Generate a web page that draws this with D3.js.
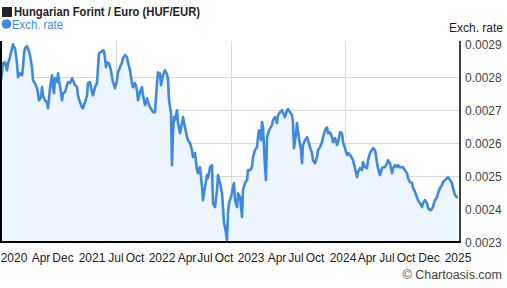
<!DOCTYPE html>
<html><head><meta charset="utf-8">
<script src="https://cdn.jsdelivr.net/npm/d3@7"></script>
<style>
html,body{margin:0;padding:0;background:#fff;}
svg{display:block;font-family:"Liberation Sans",Arial,sans-serif;}
</style></head>
<body>
<svg id="c" width="507" height="288"></svg>
<script>
// Days since start of the 5-year window
const days = [0,8,16,24,28,36,44,48,52,56,60,64,68,76,84,88,92,96,104,108,116,124,128,136,144,148,152,160,164,168,176,184,188,196,204,208,212,216,224,228,232,240,244,248,256,264,268,276,284,288,296,304,308,316,324,328,336,344,348,356,364,368,376,384,388,392,400,408,412,416,420,424,432,440,444,448,456,464,468,476,484,488,496,504,508,516,524,528,536,544,548,556,564,568,576,584,588,596,604,608,616,624,628,632,636,640,648,656,664,668,672,680,684,688,692,696,704,708,716,724,728,736,744,748,756,764,768,776,784,788,796,804,808,816,824,828,836,844,848,856,864,868,876,884,888,892,896,904,908,912,920,928,932,936,944,948,956,964,968,976,984,988,996,1004,1008,1016,1024,1028,1032,1040,1044,1048,1056,1060,1064,1072,1084,1088,1096,1104,1108,1116,1124,1128,1136,1144,1148,1156,1164,1168,1172,1180,1184,1192,1200,1204,1208,1216,1224,1228,1236,1244,1248,1256,1264,1268,1276,1284,1288,1296,1304,1308,1316,1324,1328,1336,1344,1348,1356,1364,1368,1376,1384,1388,1396,1404,1408,1416,1424,1428,1436,1444,1448,1456,1464,1468,1476,1484,1488,1496,1504,1508,1516,1524,1528,1536,1544,1548,1556,1564,1568,1576,1584,1588,1596,1604,1608,1616,1624,1628,1636,1644,1648,1656,1664,1668,1676,1684,1688,1696,1704,1708,1716,1720,1728,1732,1736,1744,1748,1756,1764,1768,1776,1784,1788,1796,1804,1808,1816,1824,1828];
// HUF/EUR exchange rate
const rates = [0.002791,0.002842,0.002845,0.002821,0.002842,0.002861,0.002888,0.002900,0.002891,0.002888,0.002867,0.002842,0.002800,0.002812,0.002806,0.002830,0.002873,0.002888,0.002894,0.002888,0.002867,0.002830,0.002791,0.002782,0.002767,0.002752,0.002730,0.002739,0.002770,0.002745,0.002730,0.002724,0.002706,0.002767,0.002806,0.002770,0.002752,0.002797,0.002785,0.002812,0.002791,0.002755,0.002730,0.002752,0.002755,0.002776,0.002785,0.002782,0.002797,0.002791,0.002776,0.002770,0.002745,0.002724,0.002709,0.002706,0.002724,0.002745,0.002782,0.002785,0.002755,0.002745,0.002770,0.002782,0.002830,0.002873,0.002876,0.002882,0.002879,0.002858,0.002830,0.002845,0.002842,0.002821,0.002800,0.002785,0.002767,0.002791,0.002815,0.002830,0.002845,0.002858,0.002867,0.002861,0.002845,0.002821,0.002782,0.002770,0.002782,0.002761,0.002730,0.002755,0.002770,0.002745,0.002715,0.002736,0.002724,0.002709,0.002700,0.002694,0.002694,0.002782,0.002815,0.002806,0.002812,0.002776,0.002806,0.002821,0.002809,0.002794,0.002730,0.002691,0.002533,0.002630,0.002679,0.002670,0.002700,0.002661,0.002630,0.002661,0.002679,0.002648,0.002618,0.002609,0.002600,0.002579,0.002558,0.002570,0.002518,0.002509,0.002527,0.002467,0.002427,0.002467,0.002503,0.002494,0.002527,0.002533,0.002418,0.002406,0.002458,0.002503,0.002479,0.002448,0.002406,0.002358,0.002345,0.002306,0.002388,0.002418,0.002436,0.002467,0.002479,0.002427,0.002406,0.002448,0.002436,0.002376,0.002458,0.002479,0.002488,0.002518,0.002518,0.002527,0.002558,0.002579,0.002588,0.002618,0.002639,0.002609,0.002664,0.002648,0.002527,0.002488,0.002618,0.002639,0.002655,0.002670,0.002679,0.002661,0.002685,0.002694,0.002700,0.002691,0.002679,0.002700,0.002703,0.002694,0.002685,0.002661,0.002585,0.002630,0.002661,0.002615,0.002579,0.002539,0.002594,0.002609,0.002618,0.002609,0.002588,0.002570,0.002548,0.002539,0.002558,0.002579,0.002588,0.002603,0.002618,0.002639,0.002648,0.002630,0.002633,0.002618,0.002603,0.002615,0.002594,0.002603,0.002633,0.002630,0.002603,0.002585,0.002564,0.002570,0.002564,0.002555,0.002548,0.002524,0.002497,0.002512,0.002524,0.002518,0.002542,0.002527,0.002524,0.002548,0.002570,0.002579,0.002585,0.002579,0.002542,0.002524,0.002503,0.002524,0.002527,0.002527,0.002539,0.002548,0.002539,0.002509,0.002524,0.002533,0.002527,0.002533,0.002527,0.002527,0.002527,0.002518,0.002509,0.002494,0.002482,0.002479,0.002464,0.002452,0.002436,0.002427,0.002418,0.002406,0.002418,0.002427,0.002418,0.002403,0.002397,0.002397,0.002406,0.002418,0.002427,0.002436,0.002448,0.002464,0.002473,0.002482,0.002488,0.002494,0.002497,0.002488,0.002479,0.002464,0.002442,0.002436,0.002436];
// X-axis labels and their day positions
const xLabels = ["2020","Apr","Dec","2021","Jul","Oct","2022","Apr","Jul","Oct","2023","Apr","Jul","Oct","2024","Apr","Jul","Oct","Dec","2025"];
const xLabelDays = [52,160,248,364,460,536,644,744,816,892,1000,1104,1180,1256,1368,1464,1544,1620,1712,1828];
// Y-axis ticks
const yTicks = [0.0023,0.0024,0.0025,0.0026,0.0027,0.0028,0.0029];

const svg = d3.select("#c");
const L = 1, R = 460, T = 41, B = 242;
const x = d3.scaleLinear().domain([0,1836]).range([L,R]);
const y = d3.scaleLinear().domain([0.0023,0.00291]).range([B,T]);
const data = days.map((d,i)=>({d, v: rates[i]}));

// gridlines
const g = svg.append("g");
g.selectAll("line.h").data(yTicks.filter(t=>t>0.00231 && t<0.00289)).enter().append("line")
  .attr("x1",L).attr("x2",R).attr("y1",d=>Math.round(y(d))+0.5).attr("y2",d=>Math.round(y(d))+0.5)
  .attr("stroke","#d9d9d9").attr("stroke-width",1);
const vGrid = [0.25,0.5,0.75].map(f=>x.invert(L+(R-L)*f));
g.selectAll("line.v").data(vGrid).enter().append("line")
  .attr("x1",d=>Math.round(x(d))+0.5).attr("x2",d=>Math.round(x(d))+0.5).attr("y1",T).attr("y2",B)
  .attr("stroke","#d9d9d9").attr("stroke-width",1);

// area + line
svg.append("path").datum(data)
  .attr("d", d3.area().x(d=>x(d.d)).y0(B).y1(d=>y(d.v)))
  .attr("fill","#edf6fe");
svg.append("path").datum(data)
  .attr("d", d3.line().x(d=>x(d.d)).y(d=>y(d.v)))
  .attr("fill","none").attr("stroke","#3f8ae0").attr("stroke-width",2.6).attr("stroke-linejoin","round");

// frame
svg.append("line").attr("x1",L).attr("x2",L).attr("y1",T).attr("y2",B+1).attr("stroke","#000").attr("stroke-width",2);
svg.append("line").attr("x1",R).attr("x2",R).attr("y1",T).attr("y2",B+1).attr("stroke","#000").attr("stroke-width",1.5);
svg.append("line").attr("x1",0).attr("x2",R+0.75).attr("y1",B).attr("y2",B).attr("stroke","#000").attr("stroke-width",2);

// y axis labels
svg.append("g").selectAll("text").data(yTicks).enter().append("text")
  .attr("x",465).attr("y",d=>y(d)+5).attr("font-size",12).attr("fill","#444").text(d=>d3.format(".4f")(d));
svg.append("text").attr("x",503).attr("y",32).attr("text-anchor","end").attr("font-size",12).attr("fill","#222").text("Exch. rate");

// x axis labels
svg.append("g").selectAll("text").data(xLabels).enter().append("text")
  .attr("x",(d,i)=>x(xLabelDays[i])).attr("y",262).attr("text-anchor","middle")
  .attr("font-size",12).attr("fill","#222").text(d=>d);

// legend
svg.append("rect").attr("x",2).attr("y",7).attr("width",10).attr("height",10).attr("fill","#222");
svg.append("text").attr("x",14).attr("y",16).attr("font-size",12).attr("font-weight","bold").attr("fill","#222")
  .attr("textLength",186).attr("lengthAdjust","spacingAndGlyphs").text("Hungarian Forint / Euro (HUF/EUR)");
svg.append("circle").attr("cx",6.5).attr("cy",24).attr("r",4.8).attr("fill","#3f8ae0");
svg.append("text").attr("x",12).attr("y",29).attr("font-size",12).attr("fill","#3f8ae0")
  .attr("textLength",51).attr("lengthAdjust","spacingAndGlyphs").text("Exch. rate");

// credit
svg.append("text").attr("x",502).attr("y",279).attr("text-anchor","end").attr("font-size",12.5).attr("fill","#444").text("\u00a9 Chartoasis.com");
</script>
</body></html>
